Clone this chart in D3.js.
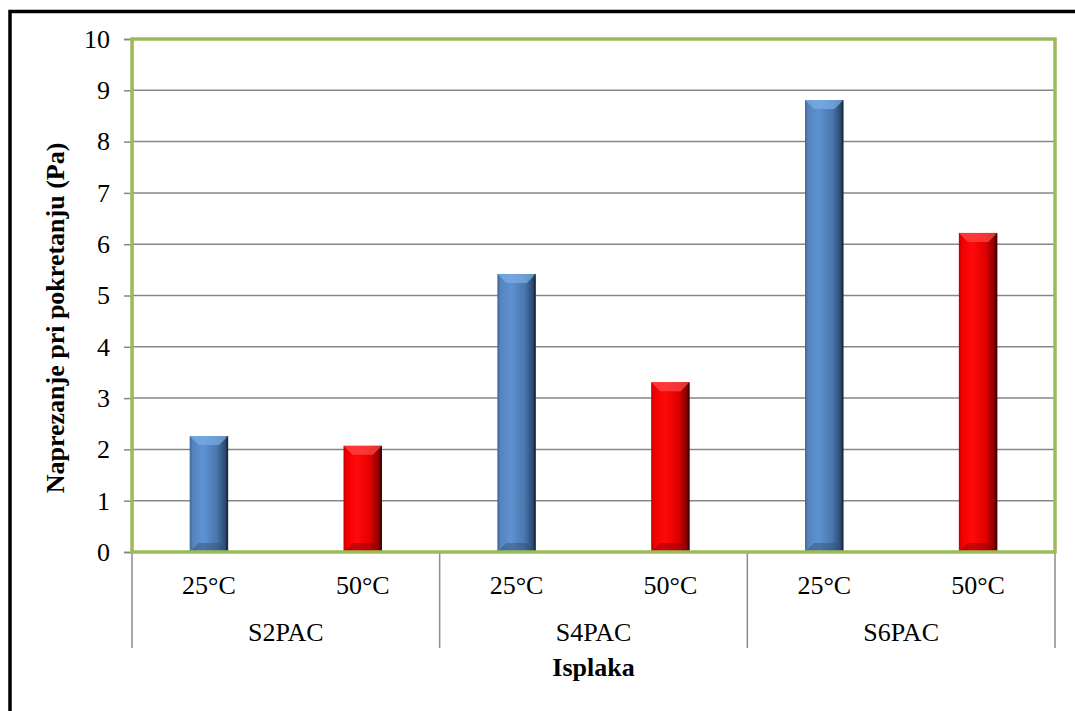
<!DOCTYPE html>
<html><head><meta charset="utf-8">
<script src="https://cdn.jsdelivr.net/npm/d3@7"></script>
<style>
html,body{margin:0;padding:0;background:#fff;}
svg{display:block;}
text{font-family:"Liberation Serif","Times New Roman",serif;fill:#000;}
</style></head>
<body>
<script>
const groups = ["S2PAC", "S4PAC", "S6PAC"];
const temps = ["25°C", "50°C"];
const values25 = [2.26, 5.42, 8.81];
const values50 = [2.07, 3.31, 6.22];
const yTicks = [0,1,2,3,4,5,6,7,8,9,10];
const yTitle = "Naprezanje pri pokretanju (Pa)";
const xTitle = "Isplaka";

const W = 1075, H = 711;
const m = {left:132, right:1055, top:39, bottom:552};

const svg = d3.select("body").append("svg").attr("width", W).attr("height", H);
const defs = svg.append("defs");

function grad(id, stops){
  const g = defs.append("linearGradient").attr("id", id).attr("x1","0").attr("x2","1").attr("y1","0").attr("y2","0");
  stops.forEach(s => g.append("stop").attr("offset", s[0]).attr("stop-color", s[1]));
}
grad("gBlue", [[0,"#3f6797"],[0.08,"#5583bd"],[0.35,"#5f92d2"],[0.7,"#4a78ae"],[0.9,"#304f78"],[1,"#1f3451"]]);
grad("gRed", [[0,"#c00000"],[0.08,"#f00000"],[0.35,"#ff0a0a"],[0.7,"#e00000"],[0.9,"#900000"],[1,"#5a0000"]]);

// outer black frame
svg.append("path").attr("d", `M10,${H+5} L10,11.5 L${W+5},11.5`).attr("fill","none").attr("stroke","#000").attr("stroke-width",3.5);

const y = d3.scaleLinear().domain([0,10]).range([m.bottom, m.top]);
const xG = d3.scaleBand().domain(groups).range([m.left, m.right]).padding(0);
const xT = d3.scaleBand().domain(temps).range([0, xG.bandwidth()]).paddingInner(0.75).paddingOuter(0.375);

// gridlines
svg.append("g").selectAll("line").data(yTicks.slice(1)).join("line")
  .attr("x1", m.left).attr("x2", m.right)
  .attr("y1", d => y(d)).attr("y2", d => y(d))
  .attr("stroke", "#868686").attr("stroke-width", 1.5);

// y axis
const yAxis = d3.axisLeft(y).tickValues(yTicks).tickSize(8).tickPadding(14).tickFormat(d3.format("d"));
const ya = svg.append("g").attr("transform", `translate(${m.left},0)`).call(yAxis);
ya.select(".domain").attr("stroke","#868686").attr("stroke-width",1.5);
ya.selectAll(".tick line").attr("stroke","#868686").attr("stroke-width",1.5);
ya.selectAll(".tick text").attr("font-size", 26).attr("font-family",'"Liberation Serif",serif').attr("fill","#000");

// bars
const data = [];
groups.forEach((g,i) => {
  data.push({g, t: temps[0], v: values25[i], fill: "url(#gBlue)", top:"#7eaee8", bot:"#2f4d74"});
  data.push({g, t: temps[1], v: values50[i], fill: "url(#gRed)", top:"#ff4a4a", bot:"#8a0000"});
});
const bars = svg.append("g").selectAll("g").data(data).join("g")
  .attr("transform", d => `translate(${xG(d.g) + xT(d.t)},0)`);
const bw = xT.bandwidth();
bars.append("rect").attr("x",0).attr("width", bw)
  .attr("y", d => y(d.v)).attr("height", d => y(0) - y(d.v))
  .attr("fill", d => d.fill);
const bev = 9;
bars.append("path").attr("d", d => {
  const t = y(d.v);
  return `M0,${t} L${bw},${t} L${bw-bev},${t+bev} L${bev},${t+bev} Z`;
}).attr("fill", d => d.top).attr("opacity", 0.7);
bars.append("path").attr("d", d => {
  const b = y(0);
  return `M0,${b} L${bw},${b} L${bw-bev},${b-bev} L${bev},${b-bev} Z`;
}).attr("fill", d => d.bot).attr("opacity", 0.45);
bars.append("rect").attr("x", bw-2).attr("width",2).attr("y", d => y(d.v)).attr("height", d => y(0)-y(d.v))
  .attr("fill", "#000").attr("opacity", 0.25);

// x axis: baseline, separators
svg.append("line").attr("x1", m.left).attr("x2", m.right).attr("y1", y(0)).attr("y2", y(0))
  .attr("stroke","#868686").attr("stroke-width",1.5);
const seps = groups.map(g => xG(g)).concat([xG(groups[groups.length-1]) + xG.bandwidth()]);
svg.append("g").selectAll("line").data(seps).join("line")
  .attr("x1", d => d).attr("x2", d => d).attr("y1", y(0)).attr("y2", 648)
  .attr("stroke","#8c8c8c").attr("stroke-width",1.5);

// temp labels
const tl = [];
groups.forEach(g => temps.forEach(t => tl.push({g,t})));
svg.append("g").selectAll("text").data(tl).join("text")
  .attr("x", d => xG(d.g) + xT(d.t) + bw/2).attr("y", 594)
  .attr("text-anchor","middle").attr("font-size", 26).text(d => d.t);
svg.append("g").selectAll("text").data(groups).join("text")
  .attr("x", d => xG(d) + xG.bandwidth()/2).attr("y", 641)
  .attr("text-anchor","middle").attr("font-size", 26).text(d => d);

// green plot border
svg.append("rect").attr("x", m.left).attr("y", m.top).attr("width", m.right - m.left).attr("height", m.bottom - m.top)
  .attr("fill","none").attr("stroke","#9bbb59").attr("stroke-width",3.5);

// titles
svg.append("text").attr("x", (m.left+m.right)/2).attr("y", 676).attr("text-anchor","middle")
  .attr("font-size", 26).attr("font-weight","bold").text(xTitle);
svg.append("text").attr("transform", `translate(64,318) rotate(-90)`).attr("text-anchor","middle")
  .attr("font-size", 26).attr("font-weight","bold").text(yTitle);
</script>
</body></html>
